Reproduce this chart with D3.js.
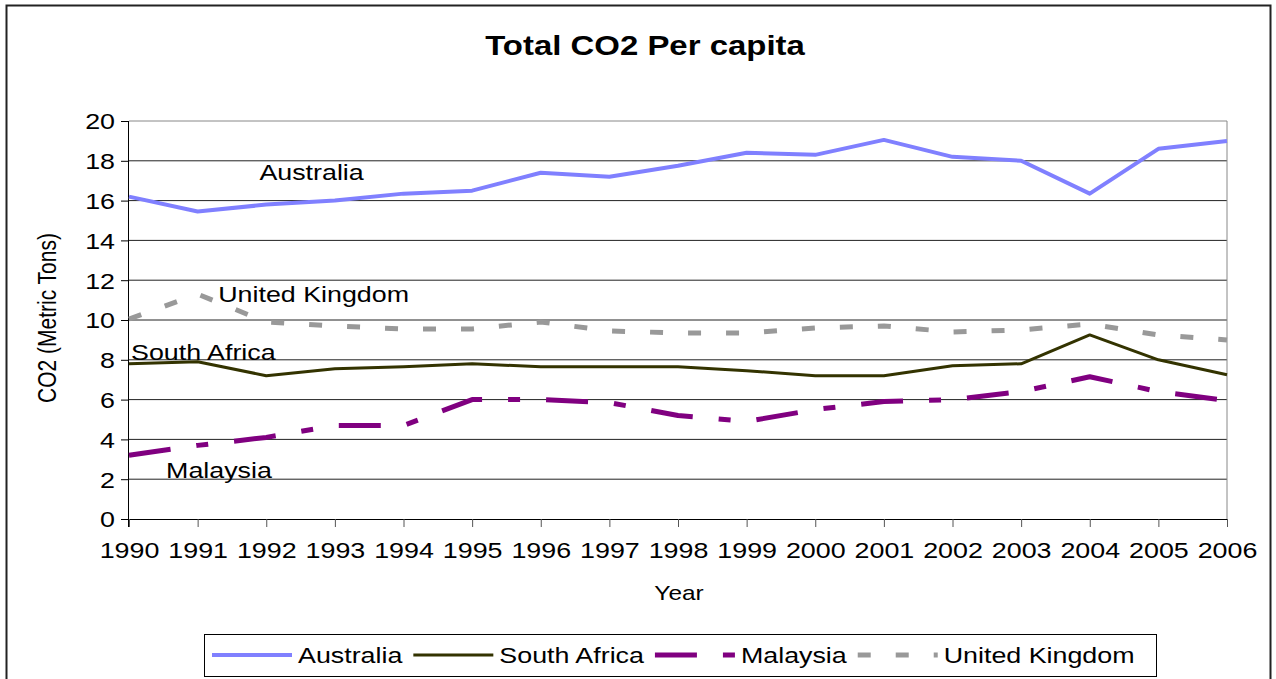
<style>
	body { margin: 0; }
	svg { display: block; }
</style>
<svg id="container" width="1276" height="679"></svg>

<script src="https://d3js.org/d3.v7.min.js"></script>
<script>
	// Total CO2 per capita, four countries, 1990 - 2006

	const years = [1990, 1991, 1992, 1993, 1994, 1995, 1996, 1997, 1998,
		1999, 2000, 2001, 2002, 2003, 2004, 2005, 2006]
	const australia = [16.2, 15.45, 15.8, 16.0, 16.35, 16.5, 17.4, 17.2, 17.75,
		18.4, 18.3, 19.05, 18.2, 18.0, 16.35, 18.6, 19.0]
	const southAfrica = [7.8, 7.9, 7.2, 7.55, 7.65, 7.8, 7.65, 7.65, 7.65,
		7.45, 7.2, 7.2, 7.7, 7.8, 9.25, 8.0, 7.25]
	const malaysia = [3.2, 3.7, 4.1, 4.7, 4.7, 6.0, 6.0, 5.85, 5.2,
		4.9, 5.5, 5.9, 6.0, 6.4, 7.15, 6.4, 5.95]
	const unitedKingdom = [10.05, 11.3, 9.9, 9.7, 9.55, 9.55, 9.9, 9.45, 9.35,
		9.35, 9.6, 9.7, 9.4, 9.5, 9.8, 9.25, 9.0]
	const yTicks = [0, 2, 4, 6, 8, 10, 12, 14, 16, 18, 20]

	// series name, values, in-chart label spot (year, value)
	const series = [
		{ name: 'Australia', values: australia, color: '#8080ff', width: 4, dash: null, label: [1991.9, 17.05] },
		{ name: 'South Africa', values: southAfrica, color: '#333300', width: 3, dash: null, label: [1990.03, 8.0] },
		{ name: 'Malaysia', values: malaysia, color: '#800080', width: 5, dash: '42,26,12,26', label: [1990.54, 2.07] },
		{ name: 'United Kingdom', values: unitedKingdom, color: '#999999', width: 5, dash: '13,25', label: [1991.3, 10.9] }
	]

	const font = '"Liberation Sans", Arial, sans-serif'
	const stretch = 1.22  // the original chart text is a bit wide

	const svg = d3.select('#container')
		.style('font-family', font)

	// outer frame
	svg.append('rect')
		.attr('x', 6.5).attr('y', 5.5)
		.attr('width', 1264).attr('height', 700)
		.attr('fill', 'white')
		.attr('stroke', '#222')
		.attr('stroke-width', 2)

	const xScale = d3.scaleLinear()
		.domain([1990, 2006])
		.range([129, 1227])

	const yScale = d3.scaleLinear()
		.domain([0, 20])
		.range([519, 121])

	// gridlines
	svg.append('g')
		.selectAll('line')
		.data(yTicks.filter(t => t > 0))
		.enter()
		.append('line')
		.attr('x1', xScale(1990)).attr('x2', xScale(2006))
		.attr('y1', d => yScale(d)).attr('y2', d => yScale(d))
		.attr('stroke', d => d === 20 ? '#888' : '#222')
		.attr('stroke-width', 1)

	// right border of plot
	svg.append('line')
		.attr('x1', xScale(2006)).attr('x2', xScale(2006))
		.attr('y1', yScale(20)).attr('y2', yScale(0))
		.attr('stroke', '#888')

	// axes
	const yAxis = d3.axisLeft(yScale).tickValues(yTicks).tickSize(8).tickPadding(12)
	const xAxis = d3.axisBottom(xScale).tickValues(years).tickFormat(d3.format('d')).tickSize(8).tickPadding(15)

	const gy = svg.append('g')
		.attr('transform', `translate(${xScale(1990)},0)`)
		.call(yAxis)
	const gx = svg.append('g')
		.attr('transform', `translate(0,${yScale(0)})`)
		.call(xAxis)

	gy.selectAll('.domain').attr('stroke', '#000').attr('d', `M-0.5,${yScale(20)}V${yScale(0) + 8}`)
	gx.selectAll('.domain').attr('stroke', '#000')
	gy.selectAll('.tick line').attr('stroke', '#000')
	gx.selectAll('.tick line').attr('stroke', '#555')
	gy.selectAll('text')
		.style('font-family', font).attr('font-size', 22).attr('fill', '#000')
		.attr('x', -14 / stretch)
		.attr('dy', '0.36em')
		.attr('transform', `scale(${stretch},1)`)
	gx.selectAll('text')
		.style('font-family', font).attr('font-size', 22).attr('fill', '#000')
		.attr('dy', '0.71em')
		.attr('transform', `scale(${stretch},1)`)

	// lines
	const line = d3.line()
		.x((d, i) => xScale(years[i]))
		.y(d => yScale(d))

	svg.append('g')
		.selectAll('path')
		.data(series)
		.enter()
		.append('path')
		.attr('d', d => line(d.values))
		.attr('fill', 'none')
		.attr('stroke', d => d.color)
		.attr('stroke-width', d => d.width)
		.attr('stroke-dasharray', d => d.dash)
		.attr('stroke-linejoin', 'round')

	// in-chart labels
	svg.append('g')
		.selectAll('text')
		.data(series)
		.enter()
		.append('text')
		.attr('transform', d => `translate(${xScale(d.label[0])},${yScale(d.label[1])}) scale(${stretch},1)`)
		.attr('font-size', 22)
		.text(d => d.name)

	// title and axis titles
	svg.append('text')
		.attr('transform', `translate(645,55) scale(${stretch},1)`)
		.attr('text-anchor', 'middle')
		.attr('font-size', 27)
		.attr('font-weight', 'bold')
		.text('Total CO2 Per capita')

	svg.append('text')
		.attr('transform', `translate(679,600) scale(${stretch},1)`)
		.attr('text-anchor', 'middle')
		.attr('font-size', 20)
		.text('Year')

	svg.append('text')
		.attr('transform', `translate(56,318) rotate(-90) scale(1,${stretch})`)
		.attr('text-anchor', 'middle')
		.attr('font-size', 21)
		.text('CO2 (Metric Tons)')

	// legend
	const legend = svg.append('g')
	legend.append('rect')
		.attr('x', 204.5).attr('y', 634.5)
		.attr('width', 952).attr('height', 42)
		.attr('fill', 'white')
		.attr('stroke', '#000')

	let lx = 212
	series.forEach(s => {
		legend.append('line')
			.attr('x1', lx).attr('x2', lx + 80)
			.attr('y1', 655).attr('y2', 655)
			.attr('stroke', s.color)
			.attr('stroke-width', s.width)
			.attr('stroke-dasharray', s.dash)
		const t = legend.append('text')
			.attr('transform', `translate(${lx + 86},663) scale(${stretch},1)`)
			.attr('font-size', 22)
			.text(s.name)
		lx += 86 + t.node().getComputedTextLength() * stretch + 11
	})
</script>
